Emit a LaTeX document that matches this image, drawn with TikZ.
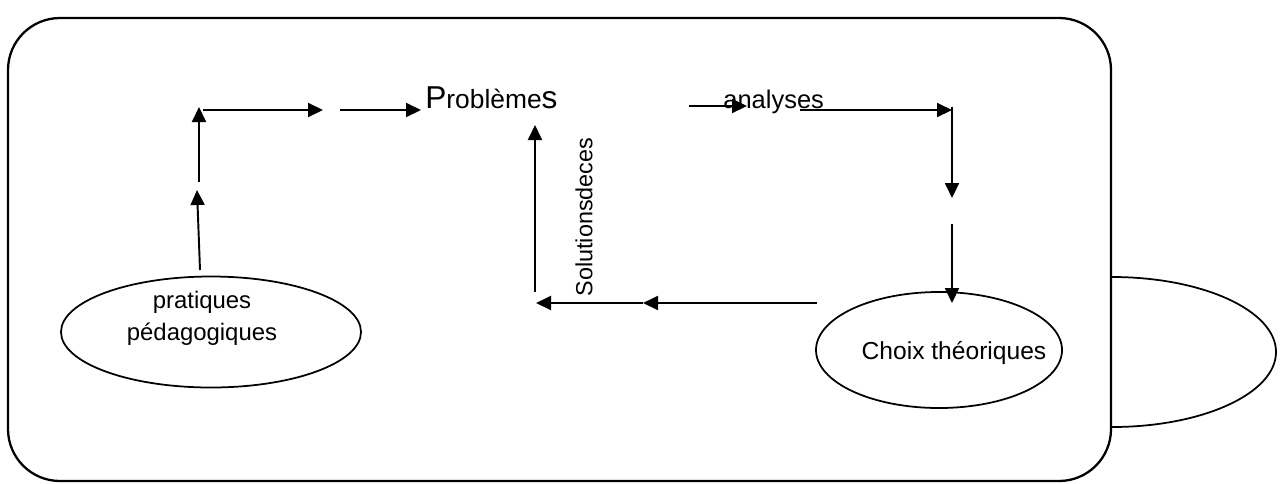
\documentclass[tikz,border=0pt]{standalone}
\usepackage{fontspec}
\setmainfont{Liberation Sans}
\usetikzlibrary{shapes.geometric,arrows.meta,positioning,calc}

\begin{document}
\begin{tikzpicture}[
bulle/.style={
draw,
ellipse,
line width=1pt,
fill=white,
inner sep=0pt
},
txt/.style={
font=\fontsize{13.6}{18.5}\selectfont,
align=center,
inner sep=0pt
},
arrow/.style={
-{Triangle[length=0.3cm,width=0.28cm]},
line width=1.1pt
}
]

\useasboundingbox (0,0) rectangle (25.70,-9.66);

\node[bulle, minimum width=6.56cm, minimum height=3.0cm] (vide) at (22.24,-7.04) {};

\draw[line width=1.3pt, rounded corners=1.04cm, fill=white]
(0.16,-0.36) rectangle (22.22,-9.62);

\node[bulle, minimum width=6.0cm, minimum height=2.22cm] (prat) at (4.22,-6.64) {};

\node[txt] (pratlbl) at (4.04,-6.37)
{pratiques\\p\'edagogiques};

\node[bulle, minimum width=4.92cm, minimum height=2.32cm] (choix) at (18.78,-7.00) {};

\node[txt, font=\fontsize{14}{17}\selectfont] (choixlbl) at (19.08,-7.06)
{Choix th\'eoriques};

\node[txt, anchor=base west, font=\fontsize{15}{18}\selectfont] (prob) at (8.50,-2.16)
{{\fontsize{18}{20}\selectfont P}robl\`eme{\fontsize{18}{20}\selectfont s}};

\node[txt, anchor=base west, font=\fontsize{14.5}{17}\selectfont] (anal) at (14.46,-2.16)
{analyses};

\node[txt, rotate=90, font=\fontsize{13.3}{16}\selectfont] (sol) at (11.68,-4.34)
{Solutionsdeces};

\coordinate (p1) at (4.00,-5.40);
\coordinate (p2) at (3.94,-3.80);
\coordinate (p3) at (3.98,-3.64);
\coordinate (p4) at (3.98,-2.14);
\coordinate (p5) at (4.06,-2.20);
\coordinate (p6) at (6.46,-2.20);
\coordinate (p7) at (6.80,-2.20);
\coordinate (p8) at (10.70,-5.84);
\coordinate (p9) at (10.70,-2.50);
\coordinate (p10) at (16.34,-6.06);
\coordinate (p11) at (12.86,-6.06);
\coordinate (p12) at (10.72,-6.06);
\coordinate (p13) at (13.78,-2.12);
\coordinate (p14) at (14.94,-2.12);
\coordinate (p15) at (16.00,-2.20);
\coordinate (p16) at (19.04,-2.20);
\coordinate (p17) at (19.04,-2.14);
\coordinate (p18) at (19.04,-3.96);
\coordinate (p19) at (19.04,-4.48);
\coordinate (p20) at (19.04,-6.06);

\draw[arrow] (p1) -- (p2);
\draw[arrow] (p3) -- (p4);
\draw[arrow] (p5) -- (p6);
\draw[arrow] (p7) -- ([xshift=-0.08cm,yshift=-0.04cm]prob.base west);

\draw[arrow] (p8) -- (p9);
\draw[arrow] (p10) -- (p11);
\draw[arrow] (p11) -- (p12);

\draw[arrow] (p13) -- (p14);
\draw[arrow] (p15) -- (p16);
\draw[arrow] (p17) -- (p18);
\draw[arrow] (p19) -- (p20);

\end{tikzpicture}
\end{document}
